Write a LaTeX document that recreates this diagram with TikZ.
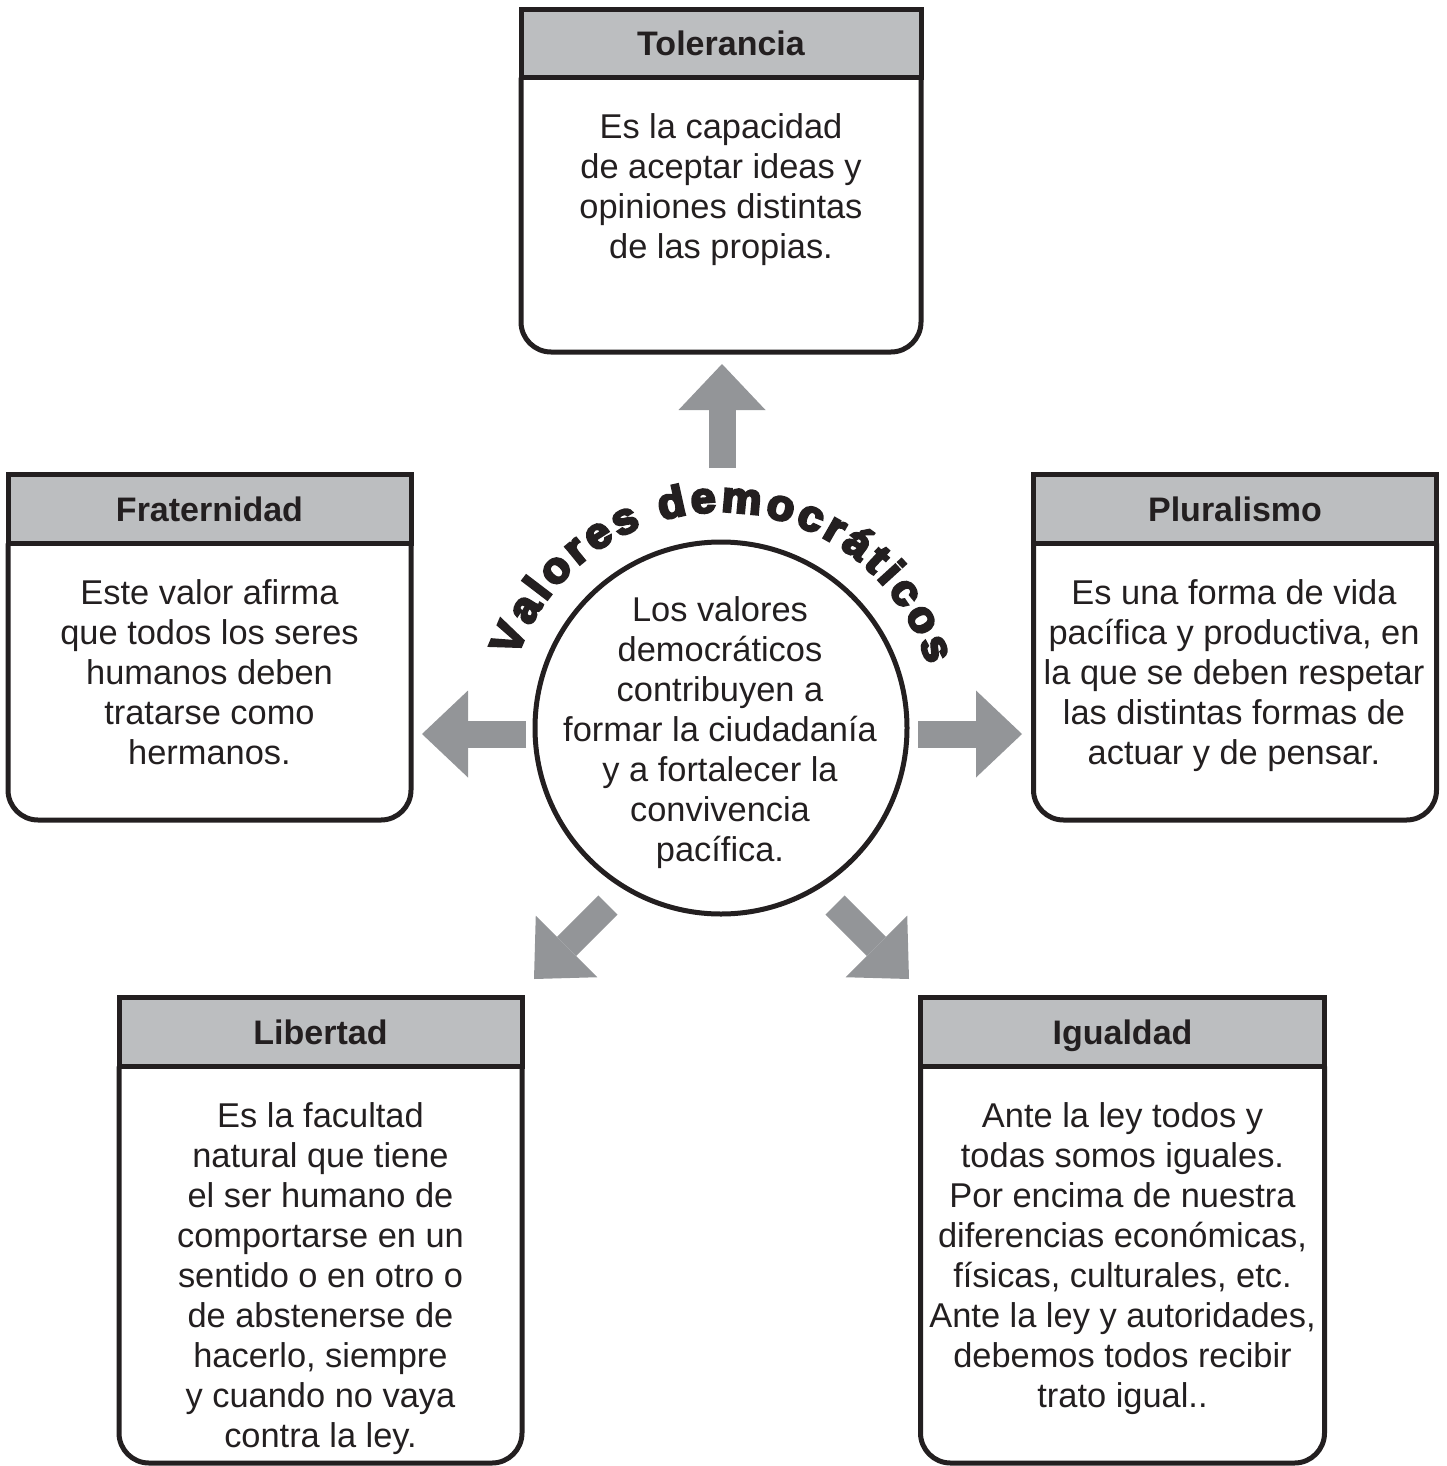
\documentclass[tikz,border=0pt]{standalone}
\usepackage{fontspec}
\setmainfont{Liberation Sans}
\newfontfamily\heavyfont{Liberation Sans Bold}[FakeBold=6,FakeStretch=1.04]
\usetikzlibrary{arrows.meta,decorations.text}
\definecolor{ink}{HTML}{231F20}
\definecolor{headgray}{HTML}{BCBEC0}
\definecolor{arrowgray}{HTML}{939598}
\begin{document}
\begin{tikzpicture}[x=1pt,y=1pt,
  head/.style={draw=ink, fill=headgray, line width=5pt, minimum height=68.5pt, inner sep=0pt, outer sep=0pt, text height=25pt, text depth=0pt, font=\bfseries\fontsize{34}{40}\selectfont, text=ink},
  bodytext/.style={align=center, inner sep=0pt, font=\fontsize{34.4}{40}\selectfont, text=ink},
  frame/.style={draw=ink, line width=5pt, rounded corners=30pt},
  bigarrow/.style={draw=arrowgray, line width=27pt, -{Triangle[length=46pt,width=87pt,line width=0pt]}}
]
\useasboundingbox (0,0) rectangle (1446,-1466);

% centre
\node[circle, draw=ink, line width=5pt, minimum size=372pt, inner sep=0pt] (cen) at (721,-728) {};
\node[bodytext] (cenT) at (720,-733)
  {Los valores\\democráticos\\contribuyen a\\formar la ciudadanía\\y a fortalecer la\\convivencia\\pacífica.};
\path[decorate, decoration={text along path, text color=ink,
  text={|\heavyfont\fontsize{43}{43}\selectfont|Valores democráticos}, text align=fit to path}]
  ([shift={(161:216)}]cen.center) arc[start angle=161, end angle=17, radius=216];

% Tolerancia
\node[head, minimum width=400pt] (tolH) at (721,-43.5) {Tolerancia};
\draw[frame] (tolH.south west) -- (tolH.south west |- 0,-352) -- (tolH.south east |- 0,-352) -- (tolH.south east);
\node[bodytext] (tolB) at (721,-190) {Es la capacidad\\de aceptar ideas y\\opiniones distintas\\de las propias.};

% Fraternidad
\node[head, minimum width=403pt] (fraH) at (209.5,-509) {Fraternidad};
\draw[frame] (fraH.south west) -- (fraH.south west |- 0,-820) -- (fraH.south east |- 0,-820) -- (fraH.south east);
\node[bodytext] (fraB) at (209.5,-672) {Este valor afirma\\que todos los seres\\humanos deben\\tratarse como\\hermanos.};

% Pluralismo
\node[head, minimum width=403pt] (pluH) at (1235,-509) {Pluralismo};
\draw[frame] (pluH.south west) -- (pluH.south west |- 0,-820) -- (pluH.south east |- 0,-820) -- (pluH.south east);
\node[bodytext] (pluB) at (1234,-676) {Es una forma de vida\\pacífica y productiva, en\\la que se deben respetar\\las distintas formas de\\actuar y de pensar.};

% Libertad
\node[head, minimum width=403pt] (libH) at (320.5,-1032) {Libertad};
\draw[frame] (libH.south west) -- (libH.south west |- 0,-1463) -- (libH.south east |- 0,-1463) -- (libH.south east);
\node[bodytext] (libB) at (320.5,-1279) {Es la facultad\\natural que tiene\\el ser humano de\\comportarse en un\\sentido o en otro o\\de abstenerse de\\hacerlo, siempre\\y cuando no vaya\\contra la ley.};

% Igualdad
\node[head, minimum width=404pt] (iguH) at (1122.5,-1032) {Igualdad};
\draw[frame] (iguH.south west) -- (iguH.south west |- 0,-1463) -- (iguH.south east |- 0,-1463) -- (iguH.south east);
\node[bodytext] (iguB) at (1122.5,-1259) {Ante la ley todos y\\todas somos iguales.\\Por encima de nuestra\\diferencias económicas,\\físicas, culturales, etc.\\Ante la ley y autoridades,\\debemos todos recibir\\trato igual..};

% arrows
\coordinate (aUpT) at (722,-468);   \coordinate (aUpH) at (722,-364);
\coordinate (aLT) at (526,-734);    \coordinate (aLH) at (422,-734);
\coordinate (aRT) at (918,-734);    \coordinate (aRH) at (1022,-734);
\coordinate (aDLT) at (608,-905);   \coordinate (aDLH) at (534,-979);
\coordinate (aDRT) at (835,-905);   \coordinate (aDRH) at (909,-979);
\draw[bigarrow] (aUpT) -- (aUpH);
\draw[bigarrow] (aLT) -- (aLH);
\draw[bigarrow] (aRT) -- (aRH);
\draw[bigarrow] (aDLT) -- (aDLH);
\draw[bigarrow] (aDRT) -- (aDRH);
\end{tikzpicture}
\end{document}
